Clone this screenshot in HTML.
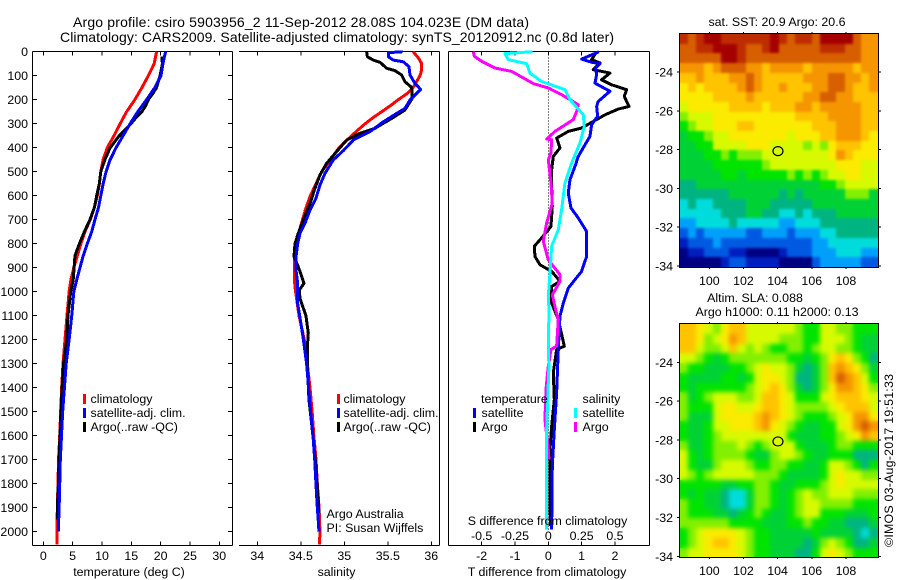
<!DOCTYPE html>
<html lang="en">
<head>
<meta charset="utf-8">
<title>Argo profile chart</title>
<style>
html,body{margin:0;padding:0;background:#fff;}
svg{display:block;}
text{font-family:"Liberation Sans",sans-serif;font-size:12.4px;fill:#000;}
text.big{font-size:14px;}
</style>
</head>
<body>
<svg id="chart" xmlns="http://www.w3.org/2000/svg" width="900" height="580" viewBox="0 0 900 580">
  <defs>
    <filter id="soft-sst" x="-10%" y="-10%" width="120%" height="120%" color-interpolation-filters="sRGB"><feGaussianBlur stdDeviation="1.4"/></filter>
    <filter id="soft-sla" x="-10%" y="-10%" width="120%" height="120%" color-interpolation-filters="sRGB"><feGaussianBlur stdDeviation="2.5"/></filter>
    <clipPath id="clip-sst"><rect x="680" y="34" width="198" height="233"/></clipPath>
    <clipPath id="clip-sla"><rect x="680" y="324" width="198" height="233"/></clipPath>
  </defs>
  <rect x="0" y="0" width="900" height="580" fill="#fff"/>
  <g id="titles">
    <text class="big" x="73" y="27" textLength="456" lengthAdjust="spacing">Argo profile: csiro 5903956_2 11-Sep-2012 28.08S 104.023E (DM data)</text>
    <text class="big" x="60" y="42" textLength="554" lengthAdjust="spacing">Climatology: CARS2009. Satellite-adjusted climatology: synTS_20120912.nc (0.8d later)</text>
    <text x="777" y="26" text-anchor="middle">sat. SST: 20.9 Argo: 20.6</text>
    <text x="755" y="302" text-anchor="middle">Altim. SLA: 0.088</text>
    <text x="777" y="316" text-anchor="middle">Argo h1000: 0.11 h2000: 0.13</text>
    <text transform="translate(893,547) rotate(-90)" textLength="173" lengthAdjust="spacing">©IMOS 03-Aug-2017 19:51:33</text>
  </g>
  <g id="maps"></g>
  <g id="panels"></g>
  <g id="legends">
    <g>
      <rect x="83" y="394" width="3" height="10" fill="#f00"/>
      <text x="90.5" y="403">climatology</text>
      <rect x="83" y="408" width="3" height="10" fill="#00f"/>
      <text x="90.5" y="417">satellite-adj. clim.</text>
      <rect x="83" y="422" width="3" height="10" fill="#000"/>
      <text x="90.5" y="431">Argo(..raw -QC)</text>
    </g>
    <g>
      <rect x="337" y="394" width="3" height="10" fill="#f00"/>
      <text x="343.5" y="403">climatology</text>
      <rect x="337" y="408" width="3" height="10" fill="#00f"/>
      <text x="343.5" y="417">satellite-adj. clim.</text>
      <rect x="337" y="422" width="3" height="10" fill="#000"/>
      <text x="343.5" y="431">Argo(..raw -QC)</text>
    </g>
    <g>
      <text x="481" y="403">temperature</text>
      <rect x="473" y="408" width="3" height="10" fill="#00f"/>
      <text x="481.5" y="417">satellite</text>
      <rect x="473" y="422" width="3" height="10" fill="#000"/>
      <text x="481.5" y="431">Argo</text>
      <text x="582.5" y="403">salinity</text>
      <rect x="574" y="408" width="3" height="10" fill="#0ff"/>
      <text x="582.5" y="417">satellite</text>
      <rect x="574" y="422" width="3" height="10" fill="#f0f"/>
      <text x="582.5" y="431">Argo</text>
    </g>
    <text x="326.5" y="518">Argo Australia</text>
    <text x="326.5" y="532">PI: Susan Wijffels</text>
  </g>
</svg>
<script>
// ---- Depth axis ----
const depthTicks = [0,100,200,300,400,500,600,700,800,900,1000,1100,1200,1300,1400,1500,1600,1700,1800,1900,2000];

// ---- Temperature panel ----
const tempTicks = [0,5,10,15,20,25,30];
const tempClimDepth = [0,50,100,150,200,250,300,350,400,450,500,550,600,650,700,750,800,850,900,950,1000,1100,1200,1300,1400,1500,1600,1700,1800,1900,2000,2054];
const tempClimValue = [19.3,18.9,17.9,16.8,15.6,14.2,13.1,12.05,10.9,10.2,9.8,9.55,9.2,8.7,8.0,7.1,6.4,5.8,5.2,4.7,4.4,4.04,3.7,3.36,3.13,2.96,2.8,2.6,2.5,2.4,2.3,2.33];
const tempSatDepth = [0,25,50,100,150,200,250,300,350,400,450,500,550,600,650,700,750,800,850,900,950,1000,1100,1200,1300,1400,1500,1600,1700,1800,1900,2000];
const tempSatValue = [20.86,20.6,20.4,20.05,19.0,17.6,16.1,14.8,13.6,12.4,11.4,10.7,10.2,9.8,9.4,8.8,8.25,7.5,6.8,6.25,5.7,5.2,4.85,4.4,3.9,3.6,3.3,3.1,2.9,2.8,2.7,2.55];
const tempArgoDepth = [20,50,100,150,175,200,225,250,275,300,350,400,450,500,550,600,650,700,750,800,850,900,950,1000,1100,1200,1300,1400,1500,1600,1700,1800,1900,1950];
const tempArgoValue = [20.2,20.3,19.9,19.3,18.65,17.9,17.45,16.8,15.8,14.95,12.95,11.4,10.5,9.8,9.55,9.1,8.7,7.95,7,6.15,5.4,5.25,5.1,4.67,4.2,4,3.45,3.2,3.0,2.85,2.67,2.57,2.4,2.4];

// ---- Salinity panel ----
const salTicks = [34,34.5,35,35.5,36];
const salTickLabels = ['34','34.5','35','35.5','36'];
const salClimDepth = [0,25,50,75,100,125,150,175,200,225,250,275,300,325,350,375,400,450,500,550,600,650,700,750,800,850,900,950,1000,1100,1200,1300,1400,1500,1600,1700,1800,1900,2000,2054];
const salClimValue = [35.79,35.85,35.89,35.89,35.87,35.83,35.79,35.72,35.62,35.53,35.43,35.33,35.24,35.16,35.085,35.01,34.94,34.84,34.74,34.675,34.61,34.56,34.52,34.48,34.46,34.43,34.425,34.425,34.44,34.48,34.54,34.575,34.606,34.63,34.65,34.675,34.69,34.71,34.72,34.715];
const salSatDepth = [0,4,21,35,42,62,97,132,157,201,236,257,292,333,368,412,451,507,556,611,660,715,757,799,854,910,965,1021,1042,1100,1200,1300,1400,1500,1600,1700,1800,1900,1950,2000];
const salSatValue = [35.671,35.506,35.506,35.563,35.678,35.743,35.755,35.812,35.878,35.755,35.698,35.602,35.449,35.295,35.104,34.989,34.874,34.778,34.72,34.674,34.606,34.548,34.491,34.464,34.445,34.445,34.464,34.46,34.46,34.487,34.53,34.567,34.59,34.613,34.64,34.66,34.674,34.69,34.70,34.709];
const salArgoDepth = [0,21,35,44,69,79,97,125,149,194,243,274,319,340,368,424,465,514,569,632,701,757,799,854,896,965,993,1028,1102,1172,1234,1311,1450,1589,1727,1866,1922];
const salArgoValue = [35.257,35.265,35.333,35.41,35.487,35.583,35.659,35.697,35.774,35.782,35.697,35.563,35.353,35.18,35.027,34.893,34.797,34.72,34.663,34.606,34.529,34.471,34.433,34.422,34.471,34.537,34.483,34.491,34.56,34.586,34.575,34.575,34.594,34.636,34.674,34.7,34.709];

// ---- Difference panel ----
const diffTTicks = [-2,-1,0,1,2];
const diffTTickLabels = ['-2','-1','0','1','2'];
const diffSTicks = [-0.5,-0.25,0,0.25,0.5];
const diffSTickLabels = ['-0.5','-0.25','0','0.25','0.5'];
const diffTSatDepth = [0,31,44,50,68,96,131,165,207,228,269,304,353,388,436,478,533,589,651,693,749,853,915,985,1047,1102,1241,1422,1575,1727,1991];
const diffTSatValue = [1.52,1.0,1.30,1.55,1.42,1.45,1.40,1.85,1.50,1.45,1.48,1.30,1.25,1.10,0.90,0.80,0.65,0.60,0.68,0.90,1.15,1.15,1.0,0.60,0.45,0.35,0.30,0.25,0.18,0.12,0.10];
const diffTArgoDepth = [0,33,47,75,89,117,138,158,186,228,239,263,318,332,360,401,436,492,561,644,728,776,811,853,888,915,957,978,1047,1116,1227,1241,1338,1450,1561,1658,1977];
const diffTArgoValue = [1.45,1.30,1.55,1.35,1.85,1.60,1.90,2.35,2.28,2.42,2.10,1.70,1.0,0.60,0.25,0.35,0.15,0.10,0.10,0.12,0.08,-0.20,-0.42,-0.40,-0.25,0.10,0.35,0.10,0.10,0.30,0.48,0.25,0.15,0.18,0.10,0.05,0.06];
const diffSSatDepth = [0,8,33,50,89,124,158,200,263,311,381,464,547,658,742,811,922,1019,1075,1241,1311,1450,1589,1797,1991];
const diffSSatValue = [-0.12,-0.325,-0.30,-0.1625,-0.1375,-0.05,0.125,0.1625,0.2625,0.27,0.2375,0.175,0.125,0.10,0.075,0.025,0.0125,0,0.005,0,0.005,-0.005,-0.0125,-0.0125,-0.0125];
const diffSArgoDepth = [0,19,40,68,82,117,133,151,179,221,249,283,332,364,367,422,450,547,631,714,790,867,929,957,1013,1075,1116,1227,1241,1311,1408,1533,1658,1700];
const diffSArgoValue = [-0.5625,-0.555,-0.5,-0.4,-0.275,-0.1625,-0.1125,0,0.10,0.225,0.2125,0.1875,0.05,-0.0125,0.025,0.02,0,0.02,0.03,-0.0125,-0.0375,0,0.0875,0.0875,0.03,0.055,0.075,0.0625,0.02,0,-0.0175,-0.025,0,0.005];

// ---- Maps ----
const lonTicks = [100,102,104,106,108];
const latTicks = [24,26,28,30,32,34];
const argoLon = [104.02];
const argoLat = [28.08];
const sstLevels = [
[14,13,14,15,15,14,14,14,14,14,14,15,14,13,14,14,13,15,15,15,15,13,12,12],
[13,13,14,14,15,15,15,14,13,13,14,15,13,13,13,13,13,14,14,14,13,13,12,12],
[13,13,13,13,13,15,15,14,13,13,13,13,13,13,13,13,13,13,13,13,13,13,12,12],
[12,12,12,11,12,13,13,13,12,12,11,12,12,12,12,11,12,12,12,12,12,11,12,12],
[11,11,12,11,11,11,12,12,13,12,11,11,11,11,11,12,12,12,13,13,12,12,11,12],
[10,11,10,11,11,11,11,12,13,12,11,11,12,11,11,11,12,12,13,13,12,11,11,12],
[10,10,10,10,11,11,11,11,12,11,11,11,11,11,11,12,12,13,13,12,12,11,11,11],
[9,10,10,10,10,10,11,11,11,11,10,11,11,11,12,12,11,12,12,12,12,12,11,11],
[8,9,9,9,10,10,10,10,10,10,10,10,10,10,11,11,11,11,12,12,12,12,11,11],
[7,8,9,9,10,10,10,11,11,10,10,10,10,10,10,10,11,11,11,12,12,12,11,11],
[6,7,7,8,9,9,10,10,10,10,10,10,10,9,10,10,10,11,11,12,12,12,11,10],
[6,6,7,7,9,9,9,9,10,10,10,9,9,9,9,8,9,8,10,11,11,11,10,10],
[6,6,6,7,7,8,7,8,8,8,9,9,9,9,9,9,9,9,10,12,11,10,10,10],
[6,6,6,6,7,7,7,7,7,7,8,9,9,9,9,9,9,9,9,10,10,10,9,9],
[6,6,6,6,6,7,7,6,7,7,7,7,7,8,7,8,7,8,9,9,10,10,9,9],
[5,5,6,6,6,6,6,6,6,6,6,6,6,6,6,6,6,7,7,8,9,9,9,9],
[5,5,5,5,5,5,6,6,6,6,6,6,5,6,5,6,6,6,6,6,8,8,8,6],
[4,5,4,4,5,5,5,5,6,6,6,5,5,5,5,5,6,6,6,6,6,6,6,6],
[4,4,4,4,4,5,5,5,6,6,5,5,4,4,5,4,5,5,5,6,6,6,6,6],
[3,3,4,4,4,4,5,4,4,4,4,4,3,3,4,4,4,5,5,5,5,5,5,5],
[2,3,2,3,3,3,3,3,2,2,3,3,3,2,3,3,3,4,4,5,5,5,5,5],
[1,2,2,2,3,2,2,2,2,2,2,2,2,2,2,2,3,3,4,4,4,4,4,4],
[0,1,1,2,2,2,1,1,0,0,0,0,1,2,2,2,3,3,3,4,4,4,3,3],
[0,0,0,0,0,1,2,2,1,1,1,1,0,0,0,0,2,3,3,3,3,3,2,2]
];
const slaLevels = [
[11,11,10,9,8,10,11,11,9,9,9,9,9,9,8,7,7,9,9,8,8,7,7,7],
[11,11,10,8,9,10,12,11,9,9,9,9,8,8,8,7,7,9,9,9,8,7,6,6],
[11,11,9,8,8,9,11,9,8,9,8,7,7,8,8,7,8,9,9,8,8,7,6,6],
[9,9,8,7,6,7,8,8,8,8,8,8,8,7,7,6,7,8,10,11,10,8,7,5],
[8,7,7,6,6,6,7,7,8,9,10,9,9,8,6,5,6,8,11,12,11,10,8,6],
[7,6,6,6,6,7,7,6,7,9,10,10,9,8,5,5,6,8,11,13,12,11,9,7],
[7,6,7,7,7,7,7,7,8,9,10,11,10,8,6,5,6,8,10,12,12,11,10,8],
[8,6,7,8,9,9,9,8,8,9,11,11,10,9,7,7,7,9,10,11,11,11,10,9],
[8,7,7,7,9,10,10,9,9,10,11,11,10,9,8,8,8,8,9,10,11,11,11,9],
[8,6,6,6,9,10,10,10,10,11,12,11,10,9,8,7,7,7,8,9,10,12,12,10],
[7,6,6,7,9,9,10,10,10,11,12,10,9,8,7,6,6,7,7,9,10,12,13,12],
[7,6,6,7,8,9,9,9,9,9,9,9,9,7,6,6,6,7,7,8,9,10,12,11],
[8,6,6,7,8,8,8,9,8,7,8,9,9,9,7,6,6,6,7,8,8,7,7,7],
[9,7,6,7,8,8,8,8,7,6,6,8,9,9,8,7,6,6,7,7,7,5,5,5],
[9,7,6,6,8,9,9,9,8,7,7,8,8,7,7,6,6,7,9,9,8,7,5,7],
[9,8,7,8,9,9,9,9,9,8,8,8,7,6,6,6,6,7,9,10,9,9,8,8],
[7,7,7,7,7,6,6,7,7,8,8,7,6,6,7,7,7,8,9,10,9,9,9,9],
[7,6,7,6,6,5,4,4,6,8,8,7,6,7,8,9,8,8,9,9,9,8,8,8],
[8,7,7,6,6,5,4,4,6,8,8,7,6,7,8,9,9,8,8,8,8,7,7,7],
[8,7,7,7,6,6,5,6,7,8,7,6,6,7,8,9,9,7,7,7,6,6,6,7],
[8,8,8,8,8,8,7,7,7,7,6,6,6,7,7,8,7,7,6,6,5,5,5,6],
[7,8,9,10,10,10,10,9,8,7,7,6,6,6,6,6,7,6,6,6,6,5,4,5],
[7,8,9,10,11,11,10,9,8,7,7,6,6,6,6,5,6,8,9,8,7,5,5,6],
[8,9,9,10,10,10,10,9,8,7,7,6,6,6,5,5,7,9,10,9,8,7,7,7]
];

// ---- Scales ----
const NS = 'http://www.w3.org/2000/svg';
const PLOT_TOP = 51.5, PLOT_BOTTOM = 545.5;
function yDepth(d){ return 51.7 + d * 0.24; }
function xTemp(v){ return 43.3 + v * 5.867; }
function xSal(v){ return 257.3 + (v - 34) * 87; }
function xDiffT(v){ return 548.3 + v * 33.33; }
function xDiffS(v){ return 548.3 + v * 133.33; }
function xLon(lon){ return 709.3 + (lon - 100) * 17.08; }
function ySst(lat){ return 72 + (lat - 24) * 19.4; }
function ySla(lat){ return 362.3 + (lat - 24) * 19.4; }
function levelColor(level){
  const stops = ['#000082','#001ebe','#005ae1','#00a0fa','#00dcdc','#00b482','#00d236','#00e400','#82f000','#d7fa00','#faeb00','#ffc300','#f59600','#d75f00','#be2d00','#a50000'];
  const i = Math.max(0, Math.min(stops.length - 1, Math.round(level)));
  return stops[i];
}
function mk(parent, tag, attrs, text){
  const el = document.createElementNS(NS, tag);
  for (const k in attrs) el.setAttribute(k, attrs[k]);
  if (text !== undefined) el.textContent = text;
  parent.appendChild(el);
  return el;
}
const panels = document.getElementById('panels');
const maps = document.getElementById('maps');

function drawLine(parent, x1, y1, x2, y2, name){
  const l = mk(parent, 'line', {x1:x1, y1:y1, x2:x2, y2:y2, stroke:'#000', 'stroke-width':1, 'shape-rendering':'crispEdges'});
  
  
  return l;
}
function drawLabel(parent, x, y, str, anchor, name){
  const t = mk(parent, 'text', {x:x, y:y, 'text-anchor':anchor}, str);
  
  
  return t;
}
function drawSeries(parent, depths, values, xScale, color, name){
  let d = '';
  for (let i = 0; i < depths.length; i++){
    d += (i ? 'L' : 'M') + xScale(values[i]).toFixed(2) + ' ' + yDepth(depths[i]).toFixed(2);
  }
  const p = mk(parent, 'path', {d:d, fill:'none', stroke:color, 'stroke-width':3, 'stroke-linejoin':'round', 'shape-rendering':'crispEdges'});
  
  
  return p;
}
function drawXTicks(parent, ticks, labels, xScale, labelY){
  ticks.forEach(function(v, i){
    const x = xScale(v);
    drawLine(parent, x, PLOT_TOP, x, PLOT_TOP + 4, 'x-tick-top');
    drawLine(parent, x, PLOT_BOTTOM, x, PLOT_BOTTOM - 4, 'x-tick-bottom');
    if (labels) drawLabel(parent, x, labelY, labels[i], 'middle', 'x-tick-label');
  });
}

// Temperature panel
(function(){
  const g = mk(panels, 'g', {});
  
  
  drawLine(g, 32.5, PLOT_TOP, 232.5, PLOT_TOP, 'top-axis');
  drawLine(g, 32.5, PLOT_BOTTOM, 232.5, PLOT_BOTTOM, 'bottom-axis');
  drawLine(g, 32.5, PLOT_TOP, 32.5, PLOT_BOTTOM, 'left-axis');
  drawLine(g, 232.5, PLOT_TOP, 232.5, PLOT_BOTTOM, 'right-axis');
  drawXTicks(g, tempTicks, tempTicks.map(String), xTemp, 560);
  depthTicks.forEach(function(d){
    const y = yDepth(d);
    drawLine(g, 32.5, y, 37, y, 'depth-tick-left');
    drawLine(g, 232.5, y, 228, y, 'depth-tick-right');
    drawLabel(g, 28, y + 4.5, String(d), 'end', 'depth-tick-label');
  });
  drawSeries(g, tempClimDepth, tempClimValue, xTemp, '#f00', 'temperature-climatology-line');
  drawSeries(g, tempArgoDepth, tempArgoValue, xTemp, '#000', 'temperature-argo-line');
  drawSeries(g, tempSatDepth, tempSatValue, xTemp, '#00f', 'temperature-satellite-line');
  drawLabel(g, 129, 576, 'temperature (deg C)', 'middle', 'temperature-axis-title');
})();

// Salinity panel
(function(){
  const g = mk(panels, 'g', {});
  
  
  drawLine(g, 239, PLOT_TOP, 439.5, PLOT_TOP, 'top-axis');
  drawLine(g, 239, PLOT_BOTTOM, 439.5, PLOT_BOTTOM, 'bottom-axis');
  drawLine(g, 439.5, PLOT_TOP, 439.5, PLOT_BOTTOM, 'right-axis');
  drawXTicks(g, salTicks, salTickLabels, xSal, 560);
  drawSeries(g, salClimDepth, salClimValue, xSal, '#f00', 'salinity-climatology-line');
  drawSeries(g, salArgoDepth, salArgoValue, xSal, '#000', 'salinity-argo-line');
  drawSeries(g, salSatDepth, salSatValue, xSal, '#00f', 'salinity-satellite-line');
  drawLabel(g, 336.5, 576, 'salinity', 'middle', 'salinity-axis-title');
})();

// Difference panel
(function(){
  const g = mk(panels, 'g', {});
  
  
  drawLine(g, 448.5, PLOT_TOP, 649.5, PLOT_TOP, 'top-axis');
  drawLine(g, 448.5, PLOT_BOTTOM, 649.5, PLOT_BOTTOM, 'bottom-axis');
  drawLine(g, 448.5, PLOT_TOP, 448.5, PLOT_BOTTOM, 'left-axis');
  drawLine(g, 649.5, PLOT_TOP, 649.5, PLOT_BOTTOM, 'right-axis');
  drawXTicks(g, diffTTicks, diffTTickLabels, xDiffT, 560);
  const zero = mk(g, 'line', {x1:xDiffT(0), y1:PLOT_TOP, x2:xDiffT(0), y2:yDepth(2000), stroke:'#000', 'stroke-width':1, 'stroke-dasharray':'1 2', 'shape-rendering':'crispEdges'});
  
  
  drawSeries(g, diffTArgoDepth, diffTArgoValue, xDiffT, '#000', 'temperature-difference-argo-line');
  drawSeries(g, diffTSatDepth, diffTSatValue, xDiffT, '#00f', 'temperature-difference-satellite-line');
  drawSeries(g, diffSArgoDepth, diffSArgoValue, xDiffS, '#f0f', 'salinity-difference-argo-line');
  drawSeries(g, diffSSatDepth, diffSSatValue, xDiffS, '#0ff', 'salinity-difference-satellite-line');
  diffSTicks.forEach(function(v, i){
    drawLabel(g, xDiffS(v), 540, diffSTickLabels[i], 'middle', 's-difference-tick-label');
  });
  drawLabel(g, 547.5, 525, 'S difference from climatology', 'middle', 's-difference-axis-title');
  drawLabel(g, 547, 576, 'T difference from climatology', 'middle', 't-difference-axis-title');
})();

// Maps
function drawMap(levels, yScale, top, bottom, labelY, name, softId, clipId){
  const g = mk(maps, 'g', {});
  
  
  const left = 680, right = 878;
  const lonMin = 98.27, lonMax = 109.86;
  const latTop = 22.04, latBottom = 34.05;
  const nRows = levels.length;
  const nCols = levels[0].length;
  const cells = mk(g, 'g', {id: name + '-cells'});
  
  
  for (let r = 0; r < nRows; r++){
    for (let c = 0; c < nCols; c++){
      const x0 = Math.round(xLon(lonMin + c * (lonMax - lonMin) / nCols));
      const x1 = Math.round(xLon(lonMin + (c + 1) * (lonMax - lonMin) / nCols));
      const y0 = Math.round(yScale(latTop + r * (latBottom - latTop) / nRows));
      const y1 = Math.round(yScale(latTop + (r + 1) * (latBottom - latTop) / nRows));
      const cell = mk(cells, 'rect', {x:x0, y:y0, width:x1 - x0, height:y1 - y0, fill:levelColor(levels[r][c]), 'shape-rendering':'crispEdges'});
      
      
    }
  }
  const softWrap = mk(g, 'g', {'clip-path':'url(#' + clipId + ')'});
  
  
  const soft = mk(softWrap, 'use', {href:'#' + name + '-cells', filter:'url(#' + softId + ')'});
  
  
  const frame = mk(g, 'rect', {x:left - 0.5, y:top - 0.5, width:right - left + 1, height:bottom - top + 1, fill:'none', stroke:'#000', 'stroke-width':1, 'shape-rendering':'crispEdges'});
  
  
  lonTicks.forEach(function(lon){
    const x = xLon(lon);
    drawLine(g, x, top - 2, x, top, 'lon-tick-top');
    drawLine(g, x, bottom, x, bottom + 2, 'lon-tick-bottom');
    drawLabel(g, x, labelY, String(lon), 'middle', 'lon-tick-label');
  });
  latTicks.forEach(function(lat){
    const y = yScale(lat);
    drawLine(g, left - 3, y, left, y, 'lat-tick-left');
    drawLine(g, right, y, right + 3, y, 'lat-tick-right');
    drawLabel(g, 673, y + 4.5, '-' + lat, 'end', 'lat-tick-label');
  });
  const marker = mk(g, 'ellipse', {cx:xLon(argoLon[0]), cy:yScale(argoLat[0]), rx:5, ry:4.5, fill:'none', stroke:'#000', 'stroke-width':1.2});
  
  
}
drawMap(sstLevels, ySst, 34, 267, 285, 'sst-map', 'soft-sst', 'clip-sst');
drawMap(slaLevels, ySla, 324, 557, 575, 'sla-map', 'soft-sla', 'clip-sla');
</script>
</body>
</html>
